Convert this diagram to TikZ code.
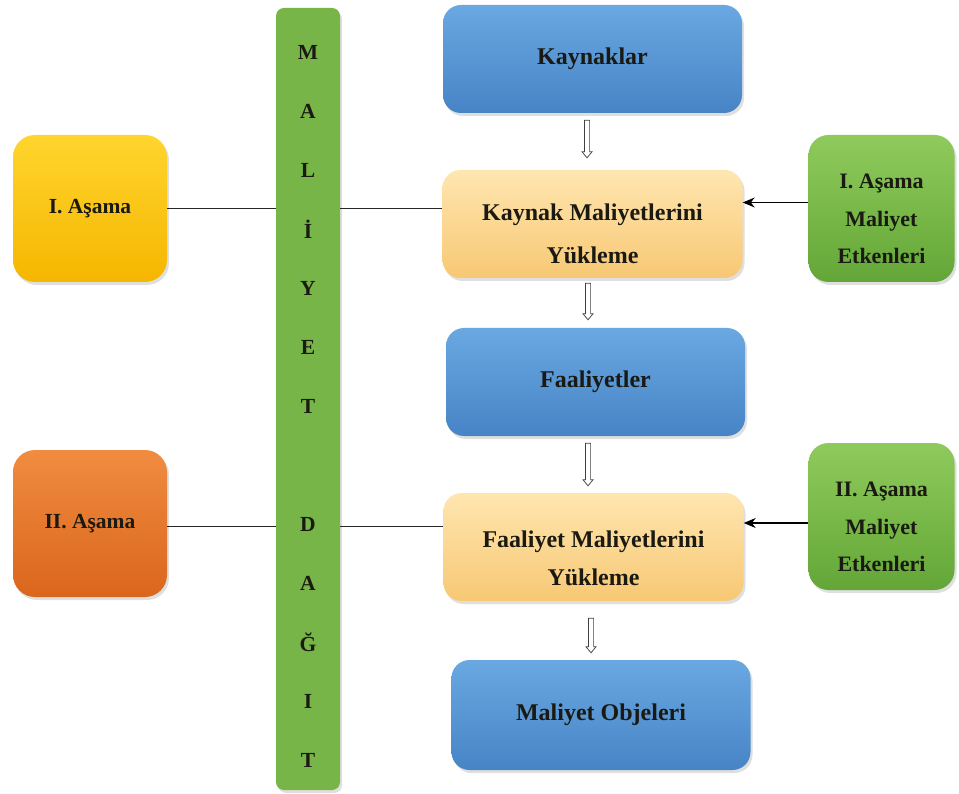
\documentclass[tikz,border=0pt]{standalone}
\usepackage{fontspec}
\setmainfont{Liberation Serif}
\usetikzlibrary{arrows.meta,shadows,calc}
\definecolor{txt}{HTML}{1A1A12}
\definecolor{blueTop}{HTML}{6AA8E2}
\definecolor{blueBot}{HTML}{4684C6}
\definecolor{sandTop}{HTML}{FFE6B0}
\definecolor{sandBot}{HTML}{F7C874}
\definecolor{goldTop}{HTML}{FFD52E}
\definecolor{goldBot}{HTML}{F5B600}
\definecolor{rustTop}{HTML}{F08C40}
\definecolor{rustBot}{HTML}{DA661C}
\definecolor{leafTop}{HTML}{8FCB5C}
\definecolor{leafBot}{HTML}{63A637}
\definecolor{barGreen}{HTML}{78B549}
% a tall invisible strut that pushes a node's text block downwards
\newcommand\pushdown[1]{\rule{0pt}{#1}}
\tikzset{
  box/.style={rounded corners=18pt, inner sep=0pt, align=center, text=txt,
    font=\fontsize{24}{43}\selectfont\bfseries,
    drop shadow={opacity=0.25, shadow xshift=2pt, shadow yshift=-3pt}},
  bluebox/.style={box, top color=blueTop, bottom color=blueBot,
    minimum width=299pt, minimum height=108pt},
  sandbox/.style={box, top color=sandTop, bottom color=sandBot,
    minimum width=300pt, minimum height=108pt},
  sidebox/.style={box, rounded corners=22pt, minimum width=154pt, minimum height=147pt,
    font=\fontsize{21.5}{38}\selectfont\bfseries},
  drvbox/.style={box, rounded corners=20pt, top color=leafTop, bottom color=leafBot,
    minimum width=146pt, minimum height=147pt,
    font=\fontsize{22}{37.5}\selectfont\bfseries},
  barletter/.style={text=txt, font=\fontsize{21.5}{21.5}\selectfont\bfseries, inner sep=0pt},
  link/.style={draw=black!85, line width=1pt},
  hollow/.style={draw=black!75, line width=0.7pt, fill=white, line join=miter,
    to path={let \p1=(\tikztostart), \p2=(\tikztotarget) in
      (\x1-2.6pt,\y1) -- (\x1+2.6pt,\y1) -- (\x1+2.6pt,\y2+6pt) -- (\x1+5pt,\y2+6pt)
      -- (\x1,\y2) -- (\x1-5pt,\y2+6pt) -- (\x1-2.6pt,\y2+6pt) -- cycle}},
  feed/.style={draw=black, line width=1.2pt, -{Stealth[length=12pt, width=10pt]}}
}
\begin{document}
\begin{tikzpicture}[x=1pt, y=-1pt]
  \useasboundingbox (0,0) rectangle (959,794);
  \fill[white] (0,0) rectangle (959,794);

  % vertical cost allocation bar
  \node[draw=none, rounded corners=8pt, fill=barGreen, minimum width=64pt,
        minimum height=782pt, inner sep=0pt,
        drop shadow={opacity=0.25, shadow xshift=2pt, shadow yshift=-3pt}]
        (bar) at (308,399) {};
  \foreach \ch [count=\i] in {M,A,L,İ,Y,E,T,{},D,A,Ğ,I,T}
    \node[barletter] (l\i) at (308,{52+59*(\i-1)}) {\ch};

  % left stage boxes
  \node[sidebox, top color=goldTop, bottom color=goldBot] (ia) at (90,208.5) {I. Aşama};
  \node[sidebox, top color=rustTop, bottom color=rustBot] (iia) at (90,523.5) {II. Aşama};

  % central flow
  \node[bluebox] (kay) at (592.5,59) {Kaynaklar};
  \node[sandbox] (kmy) at (592.5,224) {\pushdown{36pt}Kaynak Maliyetlerini\\Yükleme};
  \node[bluebox] (faa) at (595.5,382) {Faaliyetler};
  \node[sandbox, font=\fontsize{24}{38}\selectfont\bfseries] (fmy) at (593.5,547)
        {\pushdown{40pt}Faaliyet Maliyetlerini\\Yükleme};
  \node[bluebox, minimum height=110pt] (mob) at (601,715) {Maliyet Objeleri};

  % cost drivers
  \node[drvbox] (e1) at (881.5,208.5) {\pushdown{36pt}I. Aşama\\Maliyet\\Etkenleri};
  \node[drvbox] (e2) at (881.5,516.5) {\pushdown{36pt}II. Aşama\\Maliyet\\Etkenleri};

  % stage links through the bar
  \draw[link] (ia.east) -- (ia.east -| bar.west);
  \draw[link] (ia.east -| bar.east) -- (ia.east -| kmy.west);
  \draw[link] ([yshift=-3pt]iia.east) -- ([yshift=-3pt]iia.east -| bar.west);
  \draw[link] ([yshift=-3pt]iia.east -| bar.east) -- ([yshift=-3pt]iia.east -| fmy.west);

  % flow arrows
  \draw[hollow] ([xshift=-5.5pt,yshift=-7pt]kay.south) to ([xshift=-5.5pt,yshift=12pt]kay.south |- kmy.north);
  \draw[hollow] ([xshift=-4.5pt,yshift=-5pt]kmy.south) to ([xshift=-4.5pt,yshift=8pt]kmy.south |- faa.north);
  \draw[hollow] ([xshift=-7.5pt,yshift=-7pt]faa.south) to ([xshift=-7.5pt,yshift=7pt]faa.south |- fmy.north);
  \draw[hollow] ([xshift=-2.5pt,yshift=-17pt]fmy.south) to ([xshift=-2.5pt,yshift=7pt]fmy.south |- mob.north);

  % driver arrows
  \draw[feed] ([yshift=6pt]e1.west) -- ([yshift=6pt]e1.west -| kmy.east);
  \draw[feed] ([yshift=-6.5pt]e2.west) -- ([yshift=-6.5pt]e2.west -| fmy.east);
\end{tikzpicture}
\end{document}
